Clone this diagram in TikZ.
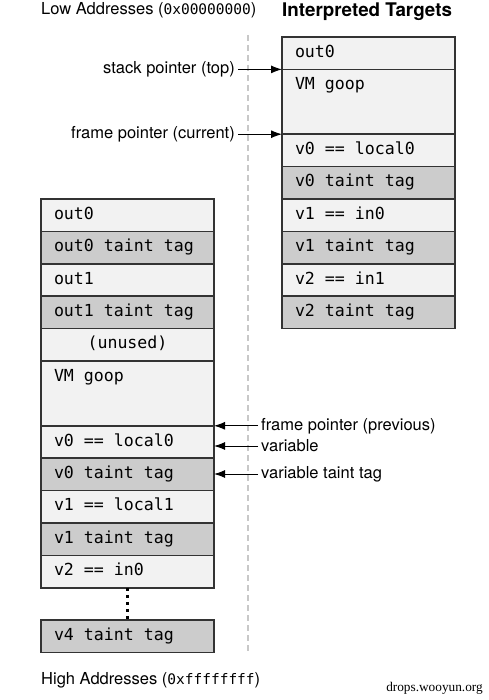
\documentclass[tikz,border=0pt]{standalone}
\usepackage{fontspec}
\setmainfont{TeX Gyre Heros}
\newfontfamily\monofont{DejaVu Sans Mono}
\newfontfamily\markfont{Liberation Serif}
\usepackage{tikz}
\usetikzlibrary{arrows.meta}
\usepackage{xcolor}
\definecolor{ColCell}{RGB}{242,242,242}
\definecolor{ColTag}{RGB}{204,204,204}
\definecolor{ColFrame}{RGB}{51,51,51}
\definecolor{ColDiv}{RGB}{200,200,200}
\newcommand\AddrHex[1]{{\monofont\fontsize{14.5}{17}\selectfont#1}}
\tikzstyle{CellBase}=[draw=ColFrame,line width=1.5pt,text width=147pt,align=flush left,inner xsep=13pt,
inner ysep=0pt,outer sep=0pt,minimum height=32.4pt,text height=11pt,text depth=3pt,anchor=north west,
font=\monofont\fontsize{16.6}{20}\selectfont]
\tikzstyle{CellPlain}=[CellBase,fill=ColCell]
\tikzstyle{CellTag}=[CellBase,fill=ColTag]
\tikzstyle{CellTall}=[CellPlain,minimum height=64.8pt,text depth=35.4pt]
\tikzstyle{PtrLabel}=[font=\fontsize{16.5}{19}\selectfont,inner xsep=3pt,inner ysep=2pt]
\tikzstyle{PtrArrow}=[-{Latex[length=11pt,width=8pt]},line width=1pt]
\tikzstyle{DivLine}=[draw=ColDiv,line width=1.2pt,dash pattern=on 6pt off 4pt]
\tikzstyle{GapDots}=[line width=2.5pt,dash pattern=on 3pt off 4pt]
\begin{document}
\begin{tikzpicture}[x=1pt,y=-1pt]
        \useasboundingbox(0,0)rectangle(488,700);
        \coordinate(dt)at(248,35);
        \coordinate(db)at(248,653);
        \draw[DivLine](dt)--(db);
        \node[anchor=west,inner sep=0pt,font=\fontsize{16.5}{19}\selectfont](lo)at(41,10.5){Low Addresses (\AddrHex{0x00000000})};
        \node[anchor=west,inner sep=0pt,font=\bfseries\fontsize{18.8}{22}\selectfont](it)at(282,12){Interpreted Targets};
        \node[CellPlain](r1)at(282,37){out0};
        \node[CellTall](r2)at(282,69.4){VM goop};
        \node[CellPlain](r3)at(282,134.2){v0 == local0};
        \node[CellTag](r4)at(282,166.6){v0 taint tag};
        \node[CellPlain](r5)at(282,199){v1 == in0};
        \node[CellTag](r6)at(282,231.4){v1 taint tag};
        \node[CellPlain](r7)at(282,263.8){v2 == in1};
        \node[CellTag](r8)at(282,296.2){v2 taint tag};
        \node[CellPlain](l1)at(41,199){out0};
        \node[CellTag](l2)at(41,231.4){out0 taint tag};
        \node[CellPlain](l3)at(41,263.8){out1};
        \node[CellTag](l4)at(41,296.2){out1 taint tag};
        \node[CellPlain,align=flush center](l5)at(41,328.6){(unused)};
        \node[CellTall](l6)at(41,361){VM goop};
        \node[CellPlain](l7)at(41,425.8){v0 == local0};
        \node[CellTag](l8)at(41,458.2){v0 taint tag};
        \node[CellPlain](l9)at(41,490.6){v1 == local1};
        \node[CellTag](l10)at(41,523){v1 taint tag};
        \node[CellPlain](l11)at(41,555.4){v2 == in0};
        \node[CellTag](l12)at(41,620){v4 taint tag};
        \draw[GapDots](l11.south)--(l12.north);
        \node[PtrLabel,anchor=east](sp)at(238,69.4){stack pointer (top)};
        \node[PtrLabel,anchor=east](fc)at(238,134.2){frame pointer (current)};
        \node[PtrLabel,anchor=west](fp)at(258,425.8){frame pointer (previous)};
        \node[PtrLabel,anchor=west](vr)at(258,446){variable};
        \node[PtrLabel,anchor=west](vt)at(258,474){variable taint tag};
        \draw[PtrArrow](sp.east)--(sp.east-|r2.west);
        \draw[PtrArrow](fc.east)--(fc.east-|r3.west);
        \draw[PtrArrow](fp.west)--(fp.west-|l7.east);
        \draw[PtrArrow](vr.west)--(vr.west-|l7.east);
        \draw[PtrArrow](vt.west)--(vt.west-|l8.east);
        \node[anchor=west,inner sep=0pt,font=\fontsize{16.5}{19}\selectfont](hi)at(41,680){High Addresses (\AddrHex{0xffffffff})};
        \node[anchor=east,inner sep=0pt,font=\markfont\fontsize{13.3}{15}\selectfont](wm)at(483,688){drops.wooyun.org};
    \end{tikzpicture}
\end{document}
